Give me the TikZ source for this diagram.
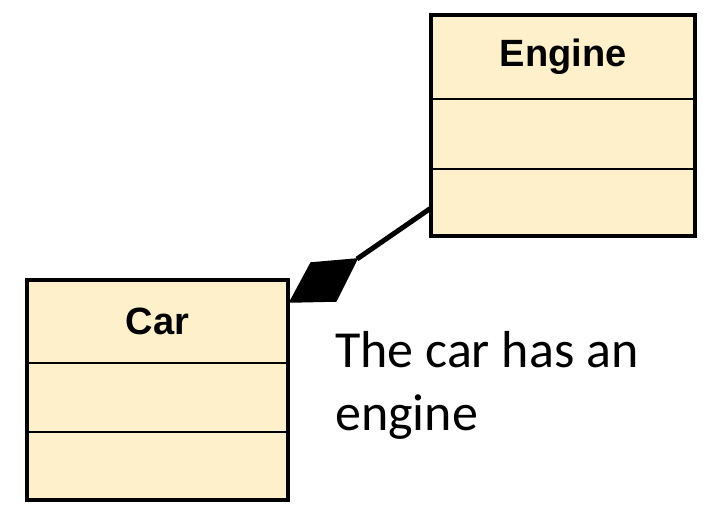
\documentclass[tikz,border=0pt]{standalone}
\usepackage{fontspec}
\setmainfont{Carlito}
\newfontfamily\classfont{Liberation Sans}
\definecolor{cream}{RGB}{255,240,204}
\tikzset{
  classbox/.style={draw=black, fill=cream, line width=4.5pt, rectangle, inner sep=0pt},
  classtitle/.style={font=\classfont\bfseries\fontsize{38}{44}\selectfont, inner sep=0pt},
  divider/.style={draw=black, line width=2pt},
  assoc/.style={draw=black, line width=5pt},
  diamondtip/.style={fill=black, draw=black, line width=1.5pt, line join=miter},
  note/.style={font=\fontsize{52}{63}\selectfont, align=left, inner sep=0pt, anchor=base west}
}
\begin{document}
\begin{tikzpicture}[x=1pt,y=-1pt]
\useasboundingbox[fill=white] (0,0) rectangle (705,508);
% Engine class
\node[classbox, minimum width=264pt, minimum height=221pt] (engine) at (563,125.5) {};
\node[classtitle] (enginetitle) at (563,57) {Engine};
\draw[divider] (engine.west |- 0,99) -- (engine.east |- 0,99);
\draw[divider] (engine.west |- 0,169) -- (engine.east |- 0,169);
% Car class
\node[classbox, minimum width=261pt, minimum height=220pt] (car) at (157.5,390) {};
\node[classtitle] (cartitle) at (157.5,321) {Car};
\draw[divider] (car.west |- 0,363) -- (car.east |- 0,363);
\draw[divider] (car.west |- 0,432) -- (car.east |- 0,432);
% composition
\coordinate (d1) at (290,302);
\coordinate (d2) at (311,263);
\coordinate (d3) at (357,259);
\coordinate (d4) at (336,301);
\coordinate (ea) at (431,208);
\draw[assoc] (d3) -- (ea);
\filldraw[diamondtip] (d1) -- (d2) -- (d3) -- (d4) -- cycle;
% note
\node[note] (notetext) at (335,430) {The car has an\\engine};
\end{tikzpicture}
\end{document}
